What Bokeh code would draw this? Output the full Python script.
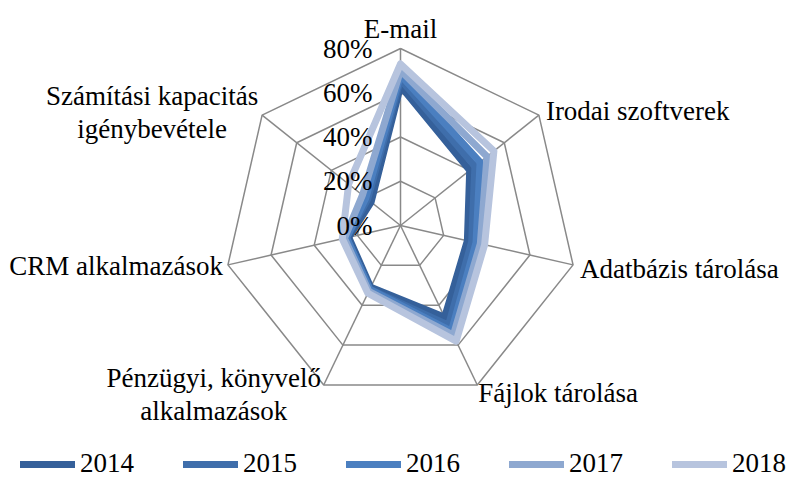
import numpy as np
from bokeh.plotting import figure
from bokeh.models import Range1d, Legend, LegendItem
from bokeh.core.properties import value
from bokeh.embed import file_html
from bokeh.resources import INLINE

# ---- data ----
categories = ["E-mail", "Irodai szoftverek", "Adatbázis tárolása", "Fájlok tárolása",
              "Pénzügyi, könyvelő\nalkalmazások", "CRM alkalmazások",
              "Számítási kapacitás\nigénybevétele"]
years = ["2014", "2015", "2016", "2017", "2018"]
v2014 = [63, 40, 31, 46, 31, 24, 17]
v2015 = [66, 43, 33, 50, 32, 25, 19]
v2016 = [68, 46, 35, 53, 32, 25, 20]
v2017 = [70, 50, 37, 55, 33, 26, 22]
v2018 = [73, 54, 39, 58, 34, 27, 30]
ticks = [0, 20, 40, 60, 80]
tick_labels = ["0%", "20%", "40%", "60%", "80%"]

# ---- style / layout ----
series = [v2014, v2015, v2016, v2017, v2018]
colors = ["#35609A", "#3F6EAB", "#4B7FC0", "#8EA8D0", "#B7C4DE"]
FONT = "Liberation Serif"
FS = "27px"
CX, CY = 400.0, 225.0
R_MAX = 177.0
VMAX = 80.0
W, H = 787, 479

n = len(categories)
theta = np.arange(n) * 2 * np.pi / n


def pt(vals):
    r = np.asarray(vals, dtype=float) / VMAX * R_MAX
    return CX + r * np.sin(theta), CY - r * np.cos(theta)


p = figure(width=W, height=H, x_range=Range1d(0, W), y_range=Range1d(H, 0),
           output_backend="svg", toolbar_location=None, min_border=0,
           x_axis_type=None, y_axis_type=None)
p.grid.visible = False
p.outline_line_color = None
p.background_fill_color = "white"
p.border_fill_color = "white"

grid_color = "#898989"
# grid rings
for t in ticks[1:]:
    gx, gy = pt([t] * n)
    p.line(list(gx) + [gx[0]], list(gy) + [gy[0]], line_color=grid_color, line_width=1.5)
# spokes
sx, sy = pt([VMAX] * n)
p.segment(x0=[CX] * n, y0=[CY] * n, x1=sx, y1=sy, line_color=grid_color, line_width=1.5)

items = []
for vals, col, yr in zip(series, colors, years):
    x, y = pt(vals)
    r = p.line(list(x) + [x[0]], list(y) + [y[0]], line_color=col, line_width=7,
               line_join="round", line_cap="round")
    items.append(LegendItem(label=yr, renderers=[r]))

# tick labels
p.text(x=[CX - 28] * len(ticks), y=[CY - t / VMAX * R_MAX for t in ticks], text=tick_labels,
       text_align="right", text_baseline="middle", text_font=value(FONT),
       text_font_size=FS, text_color="black")

# category labels
label_dx = [0, 7, 7, 1, -110, -5, -110]
label_dy = [-20, -4, 4, 8, 10, 1, -3]
aligns = ["center", "left", "left", "left", "center", "right", "center"]
for i in range(n):
    p.text(x=[sx[i] + label_dx[i]], y=[sy[i] + label_dy[i]], text=[categories[i]],
           text_align=aligns[i], text_baseline="middle", text_font=value(FONT),
           text_font_size=FS, text_color="black", text_line_height=1.1)

legend = Legend(items=items, orientation="horizontal", location=(20, 0),
                glyph_width=55, glyph_height=20, label_standoff=5, spacing=49,
                padding=0, margin=0, border_line_color=None, background_fill_alpha=0,
                label_text_font=FONT, label_text_font_size=FS, label_text_color="black")
p.add_layout(legend)

open("out.html", "w").write(file_html(p, INLINE))
